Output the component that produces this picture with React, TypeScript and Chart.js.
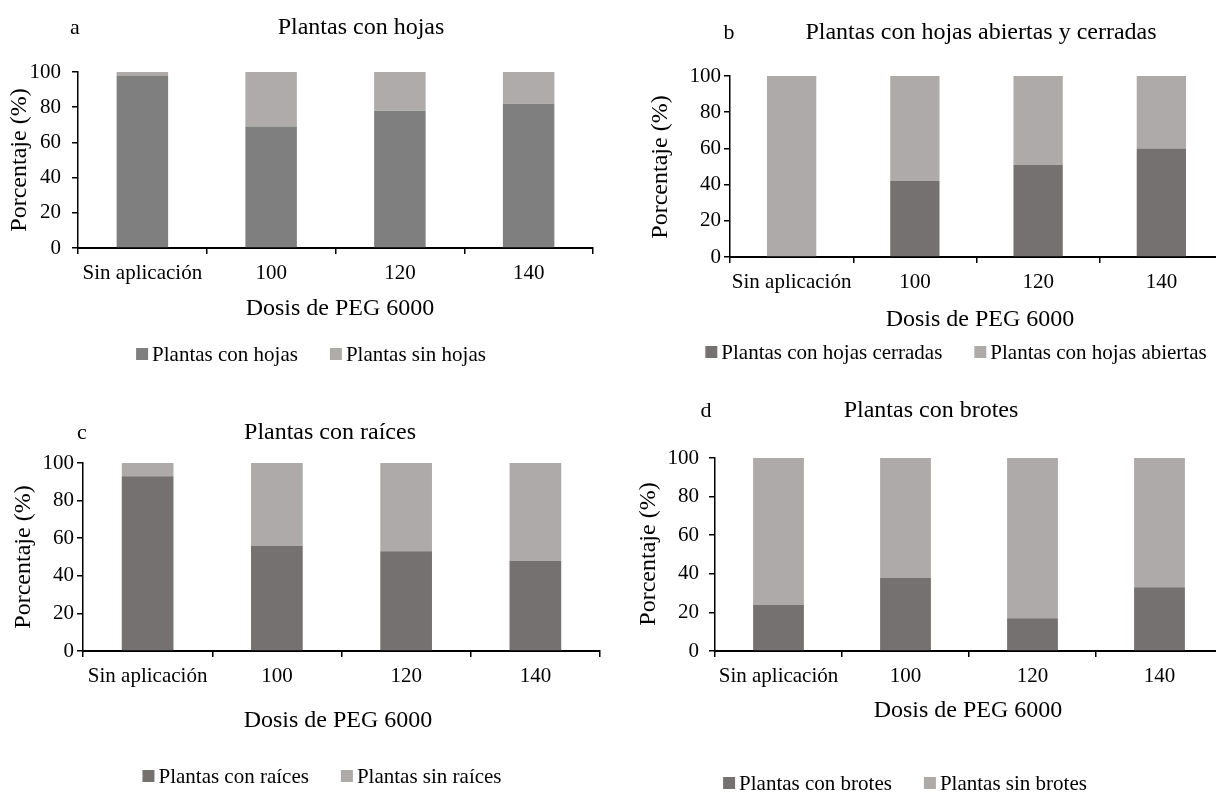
import React, { useEffect, useRef } from 'react';
import { Chart, registerables } from 'chart.js';
Chart.register(...registerables);

const FONT = "'Liberation Serif', 'Times New Roman', serif";

const categories = ['Sin aplicación', '100', '120', '140'];
const yTicks = [0, 20, 40, 60, 80, 100];
const xTitle = 'Dosis de PEG 6000';
const yTitle = 'Porcentaje (%)';

const aConHojas = [98, 69, 78, 82];
const aSinHojas = [2, 31, 22, 18];
const bCerradas = [0, 42, 51, 60];
const bAbiertas = [100, 58, 49, 40];
const cConRaices = [93, 56, 53, 48];
const cSinRaices = [7, 44, 47, 52];
const dConBrotes = [24, 38, 17, 33];
const dSinBrotes = [76, 62, 83, 67];

type Box = { l: number; t: number; r: number; b: number };
type Panel = {
  key: string;
  canvas: { left: number; top: number; width: number; height: number };
  area: Box;
  yPad: number;
  letter: string;
  letterPos: [number, number];
  title: string;
  titlePos: [number, number];
  xTitlePos: [number, number];
  yTitlePos: [number, number];
  legendY: number;
  legendCx: number;
  labels: [string, string];
  values: [number[], number[]];
  colors: [string, string];
};

const panels: Panel[] = [
  {
    key: 'a',
    canvas: { left: 0, top: 0, width: 600, height: 390 },
    area: { l: 78, t: 72, r: 593, b: 248 },
    yPad: 11,
    letter: 'a', letterPos: [75, 28],
    title: 'Plantas con hojas', titlePos: [361, 28],
    xTitlePos: [340, 309], yTitlePos: [20, 160],
    legendY: 354, legendCx: 311,
    labels: ['Plantas con hojas', 'Plantas sin hojas'],
    values: [aConHojas, aSinHojas],
    colors: ['#7F7F7F', '#AFABAB'],
  },
  {
    key: 'b',
    canvas: { left: 600, top: 0, width: 640, height: 390 },
    area: { l: 730, t: 76, r: 1223, b: 257 },
    yPad: 3,
    letter: 'b', letterPos: [729, 33],
    title: 'Plantas con hojas abiertas y cerradas', titlePos: [981, 33],
    xTitlePos: [980, 320], yTitlePos: [661, 167],
    legendY: 352, legendCx: 956,
    labels: ['Plantas con hojas cerradas', 'Plantas con hojas abiertas'],
    values: [bCerradas, bAbiertas],
    colors: ['#767171', '#AEAAAA'],
  },
  {
    key: 'c',
    canvas: { left: 0, top: 390, width: 606, height: 403 },
    area: { l: 83, t: 463, r: 600, b: 651 },
    yPad: 3,
    letter: 'c', letterPos: [82, 433],
    title: 'Plantas con raíces', titlePos: [330, 433],
    xTitlePos: [338, 721], yTitlePos: [24, 557],
    legendY: 776, legendCx: 322,
    labels: ['Plantas con raíces', 'Plantas sin raíces'],
    values: [cConRaices, cSinRaices],
    colors: ['#767171', '#AEAAAA'],
  },
  {
    key: 'd',
    canvas: { left: 600, top: 390, width: 640, height: 403 },
    area: { l: 715, t: 458, r: 1223, b: 651 },
    yPad: 10,
    letter: 'd', letterPos: [706, 411],
    title: 'Plantas con brotes', titlePos: [931, 411],
    xTitlePos: [968, 711], yTitlePos: [649, 554],
    legendY: 783, legendCx: 905,
    labels: ['Plantas con brotes', 'Plantas sin brotes'],
    values: [dConBrotes, dSinBrotes],
    colors: ['#767171', '#AEAAAA'],
  },
];

const textPlugin = (p: Panel) => ({
  id: 'panelText_' + p.key,
  afterDraw(chart: any) {
    const ctx = chart.ctx as CanvasRenderingContext2D;
    const ox = p.canvas.left;
    const oy = p.canvas.top;
    ctx.save();
    ctx.fillStyle = '#000';
    ctx.textBaseline = 'middle';
    ctx.textAlign = 'center';
    ctx.font = `22px ${FONT}`;
    ctx.fillText(p.letter, p.letterPos[0] - ox, p.letterPos[1] - oy);
    ctx.font = `24px ${FONT}`;
    ctx.fillText(p.title, p.titlePos[0] - ox, p.titlePos[1] - oy);
    ctx.fillText(xTitle, p.xTitlePos[0] - ox, p.xTitlePos[1] - oy);
    ctx.save();
    ctx.translate(p.yTitlePos[0] - ox, p.yTitlePos[1] - oy);
    ctx.rotate(-Math.PI / 2);
    ctx.fillText(yTitle, 0, 0);
    ctx.restore();
    // legend
    ctx.font = `21px ${FONT}`;
    const ds = chart.data.datasets;
    const box = 12, gapBT = 4, gapItem = 32;
    const widths = ds.map((d: any) => ctx.measureText(d.label).width);
    const total = widths.reduce((s: number, w: number) => s + box + gapBT + w, 0) + gapItem * (ds.length - 1);
    let x = p.legendCx - ox - total / 2;
    const ly = p.legendY - oy;
    ctx.textAlign = 'left';
    ds.forEach((d: any, i: number) => {
      ctx.fillStyle = d.backgroundColor;
      ctx.fillRect(x, ly - box / 2, box, box);
      x += box + gapBT;
      ctx.fillStyle = '#000';
      ctx.fillText(d.label, x, ly + 1);
      x += widths[i] + gapItem;
    });
    ctx.restore();
  },
});

function PanelChart({ p }: { p: Panel }) {
  const ref = useRef<HTMLCanvasElement | null>(null);
  useEffect(() => {
    if (!ref.current) return;
    const cl = p.canvas.left, ct = p.canvas.top;
    const desired = { l: p.area.l - cl, t: p.area.t - ct, r: p.area.r - cl, b: p.area.b - ct };
    const Y_W = 50, X_H = 40;
    const pad = {
      left: desired.l - Y_W,
      top: desired.t,
      right: p.canvas.width - desired.r,
      bottom: p.canvas.height - desired.b - X_H,
    };
    const mk = (label: string, data: number[], color: string) => ({
      label, data, backgroundColor: color, borderWidth: 0,
      barPercentage: 0.4, categoryPercentage: 1,
    });
    const chart = new Chart(ref.current, {
      type: 'bar',
      data: {
        labels: categories,
        datasets: [
          mk(p.labels[0], p.values[0], p.colors[0]),
          mk(p.labels[1], p.values[1], p.colors[1]),
        ],
      },
      options: {
        animation: false,
        responsive: false,
        maintainAspectRatio: false,
        layout: { padding: { ...pad } },
        plugins: {
          legend: { display: false },
          title: { display: false },
          tooltip: { enabled: false },
        },
        scales: {
          x: {
            stacked: true,
            grid: { offset: true, drawOnChartArea: false, drawTicks: true, tickLength: 6, color: '#000', lineWidth: 1.5 },
            border: { color: '#000', width: 2 },
            ticks: { font: { family: FONT, size: 21 }, color: '#000', padding: 7, maxRotation: 0, autoSkip: false },
            afterFit: (s: any) => { s.height = X_H; },
          },
          y: {
            stacked: true,
            min: 0,
            max: 100,
            afterBuildTicks: (s: any) => { s.ticks = yTicks.map((v) => ({ value: v })); },
            grid: { drawOnChartArea: false, drawTicks: true, tickLength: 6, color: '#000', lineWidth: 1.5 },
            border: { color: '#000', width: 1.5 },
            ticks: { font: { family: FONT, size: 21 }, color: '#000', padding: p.yPad },
            afterFit: (s: any) => { s.width = Y_W; },
          },
        },
      } as any,
      plugins: [textPlugin(p)],
    });
    for (let k = 0; k < 3; k++) {
      const ca = chart.chartArea;
      pad.left += desired.l - ca.left;
      pad.top += desired.t - ca.top;
      pad.right += ca.right - desired.r;
      pad.bottom += ca.bottom - desired.b;
      (chart.options as any).layout.padding = { ...pad };
      chart.update();
    }
    return () => chart.destroy();
  }, [p]);
  return (
    <canvas
      ref={ref}
      width={p.canvas.width}
      height={p.canvas.height}
      style={{
        position: 'absolute',
        left: p.canvas.left,
        top: p.canvas.top,
        width: p.canvas.width,
        height: p.canvas.height,
      }}
    />
  );
}

export default function App() {
  return (
    <div
      style={{
        position: 'absolute',
        left: 0,
        top: 0,
        width: 1216,
        height: 793,
        overflow: 'hidden',
        background: '#fff',
      }}
    >
      {panels.map((p) => (
        <PanelChart key={p.key} p={p} />
      ))}
    </div>
  );
}
